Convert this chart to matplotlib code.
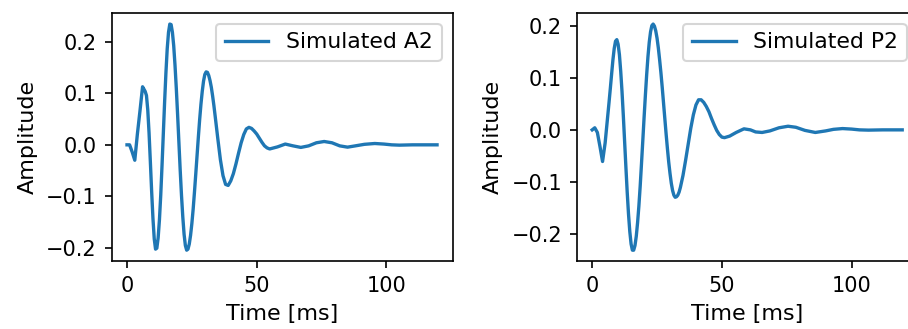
import matplotlib
matplotlib.use("Agg")
import matplotlib.pyplot as plt

# simulated responses, time in ms
t_a2 = [0, 1, 2, 3, 4, 5, 6,
        7, 7.5, 8, 8.5, 9, 9.5, 10, 10.5, 11, 11.5,
        12, 12.5, 13, 13.5, 14, 14.5, 15, 15.5, 16, 16.5,
        17, 17.5, 18, 18.5, 19, 19.5, 20, 20.5, 21, 21.5,
        22, 22.5, 23, 23.5, 24, 24.5, 25, 25.5, 26, 26.5,
        27, 27.5, 28, 28.5, 29, 29.5, 30, 30.5, 31, 31.5,
        32, 32.5, 33, 33.5, 34,
        35, 36, 37, 38, 39, 40, 41, 42, 43, 44, 45, 46, 47, 48, 49, 50,
        51, 52, 53, 54, 55,
        58, 61, 64, 67, 70, 73, 76, 79, 82, 85, 88, 91.5, 95.5, 99, 102, 105,
        110, 115, 119.5]
amp_a2 = [0.0, 0.0, -0.014, -0.03, 0.021, 0.066, 0.113,
          0.104, 0.096, 0.068, 0.023, -0.033, -0.091, -0.143, -0.183, -0.203, -0.201,
          -0.181, -0.146, -0.098, -0.040, 0.022, 0.084, 0.140, 0.187, 0.219, 0.235,
          0.234, 0.219, 0.193, 0.155, 0.110, 0.059, 0.005, -0.049, -0.098, -0.140,
          -0.174, -0.196, -0.205, -0.203, -0.193, -0.176, -0.153, -0.125, -0.092, -0.057,
          -0.021, 0.015, 0.049, 0.079, 0.104, 0.124, 0.137, 0.142, 0.141, 0.135,
          0.125, 0.112, 0.095, 0.076, 0.055,
          0.012, -0.029, -0.060, -0.077, -0.079, -0.070, -0.056, -0.037, -0.016, 0.004,
          0.020, 0.031, 0.034, 0.032, 0.027, 0.021,
          0.013, 0.005, -0.002, -0.006, -0.008,
          -0.004, 0.0015, -0.002, -0.005, -0.002, 0.004, 0.0065, 0.004, -0.002,
          -0.0045, -0.002, 0.001, 0.0026, 0.0015, 0.0, -0.0006, 0.0, 0.0, 0.0]

t_p2 = [0, 1, 2, 3, 4, 5,
        6, 6.5, 7, 7.5, 8, 8.5, 9, 9.5, 10, 10.5,
        11, 11.5, 12, 12.5, 13, 13.5, 14, 14.5, 15, 15.5,
        16, 16.5, 17, 17.5, 18, 18.5, 19, 19.5, 20, 20.5,
        21, 21.5, 22, 22.5, 23, 23.5, 24, 24.5, 25, 25.5,
        26, 26.5, 27, 27.5, 28, 28.5, 29, 29.5, 30, 30.5,
        31, 31.5, 32, 32.5, 33, 33.5, 34,
        35, 36, 37, 38, 39, 40, 41, 42, 43, 44, 45, 46, 47, 48, 49, 50, 51,
        53, 55.5, 58.5, 61, 63, 65.5, 68.5, 72, 75.5, 78.5, 82, 86, 90, 93, 96.5,
        100, 103, 106.5, 112, 119.5]
amp_p2 = [0.0, 0.004, -0.005, -0.032, -0.061, -0.025,
          0.027, 0.053, 0.080, 0.108, 0.135, 0.157, 0.171, 0.174, 0.165, 0.145,
          0.113, 0.074, 0.028, -0.022, -0.072, -0.120, -0.162, -0.196, -0.220, -0.232,
          -0.232, -0.223, -0.205, -0.179, -0.147, -0.109, -0.066, -0.022, 0.023, 0.066,
          0.106, 0.141, 0.169, 0.189, 0.201, 0.204, 0.200, 0.191, 0.177, 0.158,
          0.135, 0.110, 0.082, 0.052, 0.022, -0.008, -0.036, -0.062, -0.084, -0.103,
          -0.117, -0.126, -0.130, -0.129, -0.126, -0.120, -0.111,
          -0.088, -0.059, -0.028, 0.003, 0.029, 0.048, 0.058, 0.058, 0.053, 0.045,
          0.035, 0.022, 0.010, -0.001, -0.009, -0.014, -0.015,
          -0.012, -0.005, 0.002, 0.0, -0.004, -0.005, -0.002, 0.004, 0.007, 0.005,
          -0.001, -0.005, -0.002, 0.001, 0.0025, 0.0015, 0.0, -0.0005, 0.0, 0.0]

plt.rcParams['font.size'] = 10

fig = plt.figure(figsize=(908 / 150, 329 / 150), dpi=150)
ax1 = fig.add_axes([0.1228, 0.2052, 0.3756, 0.756])
ax2 = fig.add_axes([0.6351, 0.2052, 0.3756, 0.756])

ax1.plot(t_a2, amp_a2, lw=1.6, label="Simulated A2")
ax2.plot(t_p2, amp_p2, lw=1.6, label="Simulated P2")

for ax in (ax1, ax2):
    ax.set_xlabel("Time [ms]", fontsize=10.7)
    ax.set_ylabel("Amplitude", fontsize=10.7)
    ax.legend(loc="upper right", fontsize=10.5)

fig.savefig("out.png", dpi=150)
